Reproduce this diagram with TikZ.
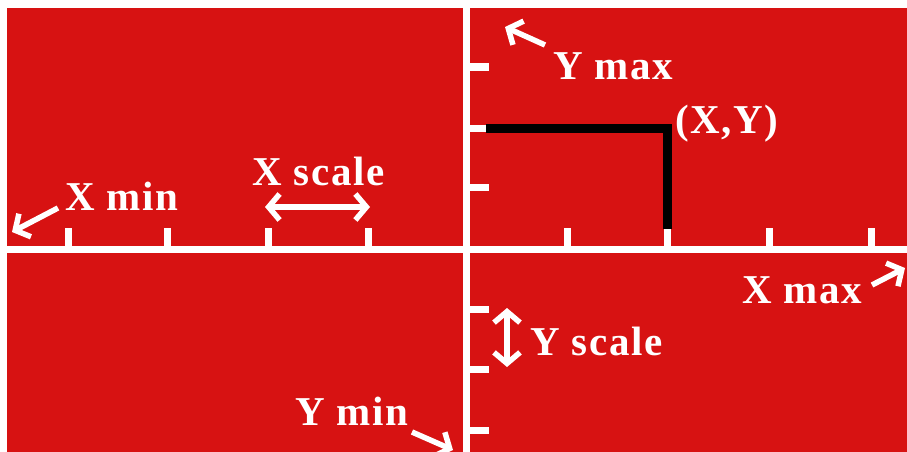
\documentclass[tikz,border=0pt]{standalone}
\usepackage{fontspec}
\setmainfont{Liberation Serif}[LetterSpace=4]
\usetikzlibrary{arrows.meta}
\definecolor{bgred}{RGB}{215,18,18}
\tikzset{
  axisline/.style={draw=white, line width=7pt},
  tickmark/.style={draw=white, line width=7pt},
  barb/.style={Straight Barb[length=11pt,width=26pt,line width=5.5pt]},
  pointer/.style={draw=white, line width=5.5pt, -{Straight Barb[length=11pt,width=26pt,line width=5.5pt]}},
  dpointer/.style={draw=white, line width=5.5pt, {Straight Barb[length=11pt,width=26pt,line width=5.5pt]}-{Straight Barb[length=11pt,width=26pt,line width=5.5pt]}},
  lbl/.style={text=white, font=\fontsize{41pt}{41pt}\selectfont\bfseries, inner sep=0pt, anchor=base west},
  pathline/.style={draw=black, line width=9pt, line join=miter}
}
\begin{document}
\begin{tikzpicture}[x=1pt,y=-1pt]
\useasboundingbox (0,0) rectangle (907,452);
\fill[white] (0,0) rectangle (907,452);
\fill[bgred] (7,8) rectangle (907,452);
% axes
\coordinate (xl) at (7,249);
\coordinate (xr) at (907,249);
\coordinate (yt) at (466,8);
\coordinate (yb) at (466,452);
\draw[axisline] (xl) -- (xr);
\draw[axisline] (yt) -- (yb);
% x ticks
\foreach \x in {68,167,268,368,567,667,769,871}
  \draw[tickmark] (\x,249) -- (\x,228);
% y ticks
\foreach \y in {67,128,187,309,369,430}
  \draw[tickmark] (466,\y) -- (489,\y);
% point path
\coordinate (pa) at (486,128);
\coordinate (pt) at (667,128);
\coordinate (pb) at (667,229);
\draw[pathline] (pa) -- (pt) -- (pb);
% labels
\node[lbl] (xmin) at (65,210) {X min};
\node[lbl] (xscale) at (252,185) {X scale};
\node[lbl] (ymax) at (553,79) {Y max};
\node[lbl] (xy) at (675,133) {(X,Y)};
\node[lbl] (xmax) at (742,303) {X max};
\node[lbl] (yscale) at (530,355) {Y scale};
\node[lbl] (ymin) at (295,425) {Y min};
% pointers
\coordinate (xmins) at (58,208);  \coordinate (xmint) at (12,232);
\coordinate (ymaxs) at (545,45);  \coordinate (ymaxt) at (505,27);
\coordinate (xmaxs) at (872,285); \coordinate (xmaxt) at (905,268);
\coordinate (ymins) at (412,432); \coordinate (ymint) at (453,450);
\coordinate (xsa) at (265,207);   \coordinate (xsb) at (370,207);
\coordinate (ysa) at (507,308);   \coordinate (ysb) at (507,367);
\draw[pointer] (xmins) -- (xmint);
\draw[pointer] (ymaxs) -- (ymaxt);
\draw[pointer] (xmaxs) -- (xmaxt);
\draw[pointer] (ymins) -- (ymint);
\draw[dpointer] (xsa) -- (xsb);
\draw[dpointer] (ysa) -- (ysb);
\end{tikzpicture}
\end{document}
